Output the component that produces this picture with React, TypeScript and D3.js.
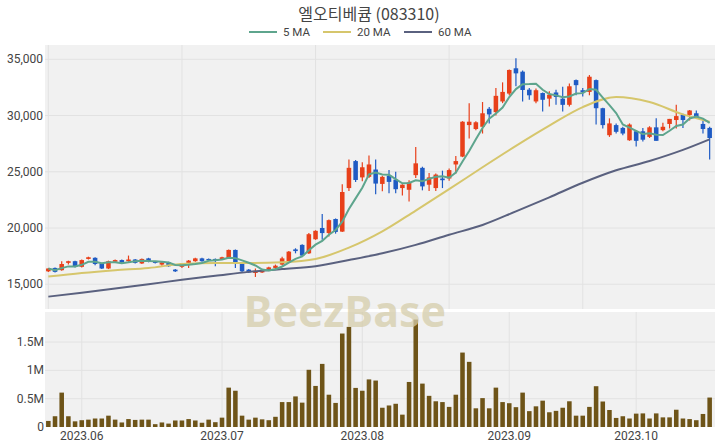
import React from 'react';
import * as d3 from 'd3';

// ---- data ----
const TITLE = '엘오티베큠 (083310)';
const HOLIDAYS = ['2023-05-29', '2023-06-06', '2023-08-15', '2023-09-28', '2023-09-29', '2023-10-02', '2023-10-03', '2023-10-09'];
const FIRST_DAY = '2023-05-24';
const LAST_DAY = '2023-10-20';

const opens = [16150,16450,16250,16900,17050,16550,17250,17350,16850,16400,17000,17150,17050,17200,16850,17300,17000,16750,16950,16300,
16550,16900,17050,17300,17250,17250,17200,17300,18050,16850,16300,16000,16050,16300,16450,16750,17000,18100,18500,17750,
19000,20000,19550,20800,19680,23550,25950,24500,24550,25200,23920,24650,24300,23550,23400,24700,25350,23850,23550,24400,
24400,25650,26350,29150,28800,29000,30600,30300,31250,31950,34200,33900,32300,31250,32000,31500,32050,31500,30950,33150,
32250,32100,33150,30650,28250,29150,28900,27800,28600,28600,28100,28950,28700,29250,29600,30050,30050,30200,29250,28900];
const highs = [16450,16500,17050,17100,17100,17200,17450,17400,16900,17100,17200,17200,17550,17250,17300,17350,17050,17000,17000,16350,
16850,17150,17350,17350,17300,17300,17450,18100,18100,16900,16350,16400,16300,16550,16750,17450,17950,18200,18550,19550,
19800,21250,20750,20850,23900,26100,26050,25850,26450,26100,24650,25150,25000,23900,24250,27200,25450,24900,24850,25100,
25300,26400,29500,31100,29500,31200,30750,32450,32950,34100,35100,34000,32450,32400,32050,32150,32300,32550,32850,33200,
32450,33600,33200,30700,29750,29300,29000,29300,28700,28900,29050,29750,29350,29700,30950,30150,30500,30450,29550,29000];
const lows = [16100,16050,16200,16750,16500,16500,17200,16700,16350,16350,16950,16900,17000,16850,16800,16950,16850,16650,16550,16100,
16450,16450,17000,17000,17100,16600,17150,17250,16450,16050,16000,15650,16000,16250,16300,16700,16950,17750,17500,17700,
18950,18950,19250,19500,19650,23300,24100,24150,24450,23000,23270,23100,23100,22900,22350,24450,23350,23300,23300,23550,
24200,24850,26300,27950,28700,28400,29300,30000,31100,31800,32600,31250,31400,31100,30350,30800,30950,30350,30800,31800,
31700,31800,29200,28850,28100,28400,28250,27750,27250,27700,28000,27750,28600,28850,28850,28900,29550,29850,28400,26100];
const closes = [16400,16100,16800,17050,16550,17150,17400,16800,16400,17050,17150,16950,17200,16900,17250,17000,16900,16950,16600,16150,
16850,17100,17300,17050,17150,17100,17400,18050,16900,16150,16050,16200,16250,16500,16650,17300,17900,17950,17550,19450,
19750,19550,20700,19650,23200,25350,24270,25400,25650,23950,24550,24100,23450,23850,24050,25750,23700,24500,24750,24250,
25150,25950,29450,29450,29400,30200,30100,31750,32100,34050,33750,32270,31800,32250,31400,31850,31650,30950,32600,32700,
32050,33450,30650,29150,29300,28550,28400,29200,27750,27850,28950,27750,29000,29700,29950,29600,30450,29850,28800,28000];
const volumes = [107000,190000,607000,190000,100000,120000,130000,150000,150000,200000,
130000,80000,140000,125000,130000,130000,50000,80000,60000,115000,
115000,140000,115000,75000,130000,85000,165000,695000,640000,200000,
130000,165000,135000,120000,180000,440000,440000,540000,430000,1010000,
725000,1114000,570000,425000,1650000,1767000,690000,640000,840000,820000,
340000,380000,410000,218000,795000,1897000,766000,550000,454000,440000,
355000,570000,1314000,1150000,330000,510000,330000,695000,440000,420000,
350000,607000,280000,365000,465000,260000,285000,340000,454000,200000,
200000,355000,720000,450000,300000,160000,190000,150000,236000,240000,
150000,240000,170000,170000,305000,150000,140000,120000,230000,520000];

// moving averages (20/60 include history before the window)
const maIdx = [0,5,10,15,20,25,30,35,40,45,50,55,60,65,70,75,80,85,90,95,99];
const ma20 = [15680,16000,16250,16450,16800,16900,16880,16950,17250,18250,19700,21550,23450,25400,27300,29100,30750,31650,31200,30100,29450];
const ma60 = [13900,14250,14620,15000,15400,15750,16100,16350,16600,17150,17750,18500,19400,20270,21480,22730,24020,25130,25960,26950,27890];

const priceTicks = [15000, 20000, 25000, 30000, 35000];
const volTicks = [0, 500000, 1000000, 1500000];
const volTickLabels = ['0', '0.5M', '1M', '1.5M'];
const mainGridIdx = [0, 20, 40, 60, 80];

const C_UP = '#e8401a';
const C_DOWN = '#1f5bc4';
const C_MA5 = '#5ea58d';
const C_MA20 = '#d6c66c';
const C_MA60 = '#5a617f';
const C_VOL = '#6e5418';

function tradingDays(): string[] {
  const out: string[] = [];
  const d = new Date(FIRST_DAY + 'T00:00:00Z');
  const end = new Date(LAST_DAY + 'T00:00:00Z');
  while (d <= end) {
    const s = d.toISOString().slice(0, 10);
    const wd = d.getUTCDay();
    if (wd !== 0 && wd !== 6 && !HOLIDAYS.includes(s)) out.push(s);
    d.setUTCDate(d.getUTCDate() + 1);
  }
  return out;
}

export default function App() {
  const W = 720, H = 448;
  const L = 45, R = 715;
  const mainTop = 45, mainBot = 309;
  const volTop = 312, volBot = 427;
  const dates = tradingDays();

  const x = d3.scaleLinear().domain([-0.5, 99.8]).range([L, R]);
  const y = d3.scaleLinear().domain([12800, 36270]).range([mainBot, mainTop]);
  const yv = d3.scaleLinear().domain([0, 2030000]).range([volBot, volTop]);
  const step = x(1) - x(0);
  const bw = step * 0.68;

  const ma5 = closes.map((_, i) => d3.mean(closes.slice(Math.max(0, i - 4), i + 1)) as number);
  const line = d3.line<number>().x((_, i) => x(i)).y(v => y(v));
  const lineSparse = (vals: number[]) =>
    d3.line<number>().x((_, i) => x(maIdx[i])).y(v => y(v)).curve(d3.curveMonotoneX)(vals) || '';

  // month ticks: first trading day of each month
  const monthTicks: { i: number; label: string }[] = [];
  dates.forEach((d, i) => {
    if (i > 0 && d.slice(5, 7) !== dates[i - 1].slice(5, 7)) {
      monthTicks.push({ i, label: d.slice(0, 4) + '.' + d.slice(5, 7) });
    }
  });

  const font = 'Roboto, "Noto Sans", sans-serif';
  const legend = [
    { label: '5 MA', color: C_MA5, x: 249 },
    { label: '20 MA', color: C_MA20, x: 323 },
    { label: '60 MA', color: C_MA60, x: 404 },
  ];

  return (
    <div style={{ position: 'fixed', left: 0, top: 0 }}>
      <svg width={W} height={H} style={{ display: 'block', background: '#fff' }}>
        <defs>
          <clipPath id="mainClip"><rect x={L} y={mainTop} width={R - L} height={mainBot - mainTop} /></clipPath>
          <clipPath id="volClip"><rect x={L} y={volTop} width={R - L} height={volBot - volTop} /></clipPath>
        </defs>
        <text x={369} y={20} textAnchor="middle" fontSize={16} fill="#444"
          fontFamily='"Noto Sans CJK KR", "Noto Sans", sans-serif'>{TITLE}</text>
        {legend.map(l => (
          <g key={l.label}>
            <line x1={l.x} x2={l.x + 28} y1={32} y2={32} stroke={l.color} strokeWidth={2} />
            <text x={l.x + 34} y={36} fontSize={11.5} fill="#444" fontFamily={font}>{l.label}</text>
          </g>
        ))}

        {/* main panel */}
        <rect x={L} y={mainTop} width={R - L} height={mainBot - mainTop} fill="#f1f1f1" />
        {priceTicks.map(t => (
          <line key={t} x1={L} x2={R} y1={y(t)} y2={y(t)} stroke="#e2e2e2" strokeWidth={1} />
        ))}
        {mainGridIdx.map(i => (
          <line key={i} x1={x(i)} x2={x(i)} y1={mainTop} y2={mainBot} stroke="#e2e2e2" strokeWidth={1} />
        ))}
        {priceTicks.map(t => (
          <text key={t} x={43} y={y(t) + 4} textAnchor="end" fontSize={12} fill="#444" fontFamily={font}>
            {d3.format(',')(t)}
          </text>
        ))}
        <g clipPath="url(#mainClip)">
          {closes.map((c, i) => {
            const o = opens[i];
            const up = c >= o;
            const col = up ? C_UP : C_DOWN;
            const top = y(Math.max(o, c));
            const bot = y(Math.min(o, c));
            return (
              <g key={i}>
                <line x1={x(i)} x2={x(i)} y1={y(highs[i])} y2={y(lows[i])} stroke={col} strokeWidth={1.2} />
                <rect x={x(i) - bw / 2} y={top} width={bw} height={Math.max(1, bot - top)} fill={col} />
              </g>
            );
          })}
          <path d={lineSparse(ma60)} fill="none" stroke={C_MA60} strokeWidth={2} />
          <path d={lineSparse(ma20)} fill="none" stroke={C_MA20} strokeWidth={2} />
          <path d={line(ma5) || ''} fill="none" stroke={C_MA5} strokeWidth={2} />
        </g>

        {/* volume panel */}
        <rect x={L} y={volTop} width={R - L} height={volBot - volTop} fill="#f1f1f1" />
        {volTicks.slice(1).map(t => (
          <line key={t} x1={L} x2={R} y1={yv(t)} y2={yv(t)} stroke="#e2e2e2" strokeWidth={1} />
        ))}
        {monthTicks.map(m => (
          <line key={m.i} x1={x(m.i)} x2={x(m.i)} y1={volTop} y2={volBot} stroke="#e2e2e2" strokeWidth={1} />
        ))}
        <g clipPath="url(#volClip)">
          {volumes.map((v, i) => (
            <rect key={i} x={x(i) - bw / 2} y={yv(v)} width={bw} height={yv(0) - yv(v)} fill={C_VOL} />
          ))}
        </g>
        {volTicks.map((t, k) => (
          <text key={t} x={44} y={yv(t) + 4} textAnchor="end" fontSize={12} fill="#444" fontFamily={font}>
            {volTickLabels[k]}
          </text>
        ))}
        {monthTicks.map(m => (
          <text key={m.i} x={x(m.i)} y={440} textAnchor="middle" fontSize={12} fill="#444" fontFamily={font}>
            {m.label}
          </text>
        ))}

        <text x={345} y={327} textAnchor="middle" fontSize={43} fontWeight="bold" fill="#d6cdab" fillOpacity={0.75}
          fontFamily='"Noto Sans", sans-serif'>BeezBase</text>
      </svg>
    </div>
  );
}
